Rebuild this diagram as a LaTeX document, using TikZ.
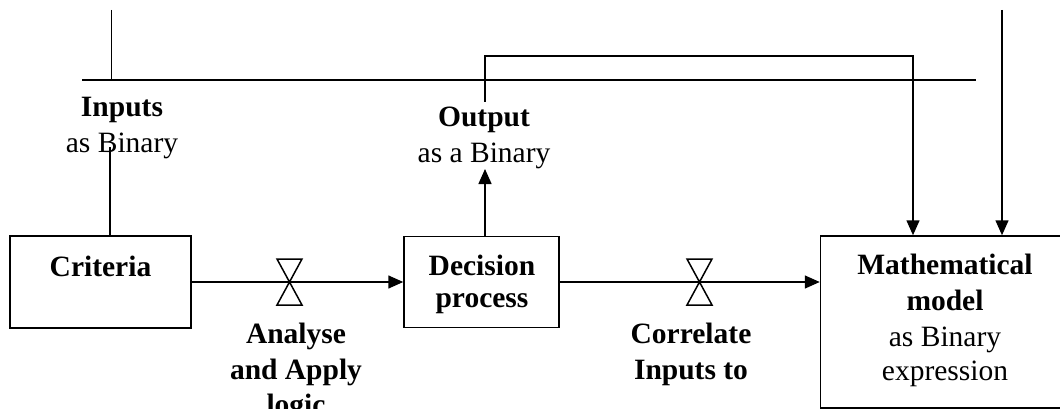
\documentclass[tikz,border=0pt]{standalone}
\usepackage{fontspec}
\setmainfont{Liberation Serif}
\usetikzlibrary{arrows.meta}
\begin{document}
\begin{tikzpicture}[x=1pt,y=-1pt, line width=1.5pt,
  box/.style={draw, line width=1.5pt, inner sep=0pt},
  txt/.style={font=\fontsize{29.5}{34}\selectfont, inner sep=0pt, anchor=base},
  btxt/.style={txt, font=\fontsize{29.5}{34}\selectfont\bfseries},
  arr/.style={-{Triangle[length=15pt,width=13pt]}},
  valve/.style={draw, fill=white, line width=1.5pt, line join=miter},
]
\useasboundingbox (0,0) rectangle (1060,409);

% boxes
\node[box, minimum width=181pt, minimum height=92pt] (crit) at (100.5,282) {};
\node[box, minimum width=155pt, minimum height=91pt] (dec) at (481.5,282) {};
\node[box, minimum width=300pt, minimum height=172pt] (math) at (970.5,322) {};

% box texts
\node[btxt] (critT) at (100.5,276) {Criteria};
\node[btxt] (decT1) at (482,275) {Decision};
\node[btxt] (decT2) at (482,307) {process};
\node[btxt] (mathT1) at (945,274) {Mathematical};
\node[btxt] (mathT2) at (945,310) {model};
\node[txt] (mathT3) at (945,346) {as Binary};
\node[txt] (mathT4) at (945,380) {expression};

% labels
\node[btxt] (inT1) at (122,117) {Inputs};
\node[txt] (inT2) at (122,153) {as Binary};
\node[btxt] (outT1) at (484,127) {Output};
\node[txt] (outT2) at (484,162) {as a Binary};
\node[btxt] (anT1) at (296,343.5) {Analyse};
\node[btxt] (anT2) at (296,379) {and Apply};
\node[btxt] (anT3) at (296,414) {logic};
\node[btxt] (coT1) at (691,343.5) {Correlate};
\node[btxt] (coT2) at (691,379) {Inputs to};

% coordinates
\coordinate (busL) at (82,80);
\coordinate (busR) at (976,80);
\coordinate (topIn) at (111.5,10);
\coordinate (inEnd) at (110,147);
\coordinate (outTip) at (485,169);
\coordinate (outTop) at (485,102);
\coordinate (outCorner) at (913,56);
\coordinate (rTop) at (1002,10);
\coordinate (v1) at (289.5,282);
\coordinate (v2) at (699.5,282);

% connectors
\draw (busL) -- (busR);
\draw (topIn) -- (topIn |- busL);
\draw (crit.north -| inEnd) -- (inEnd);
\draw[arr] (dec.north -| outTip) -- (outTip);
\draw[arr] (outTop) |- (outCorner) -- (math.north -| outCorner);
\draw[arr] (rTop) -- (math.north -| rTop);
\draw[arr] (crit.east) -- (dec.west);
\draw[arr] (dec.east) -- (math.west |- dec.east);

% valves
\draw[valve] ([xshift=-12.5pt,yshift=23pt]v1) -- ([xshift=12.5pt,yshift=23pt]v1) -- ([xshift=-12.5pt,yshift=-23pt]v1) -- ([xshift=12.5pt,yshift=-23pt]v1) -- cycle;
\draw[valve] ([xshift=-12.5pt,yshift=23pt]v2) -- ([xshift=12.5pt,yshift=23pt]v2) -- ([xshift=-12.5pt,yshift=-23pt]v2) -- ([xshift=12.5pt,yshift=-23pt]v2) -- cycle;
\draw (v1) ++(-12.5,0) -- ++(25,0);
\draw (v2) ++(-12.5,0) -- ++(25,0);
\end{tikzpicture}
\end{document}
